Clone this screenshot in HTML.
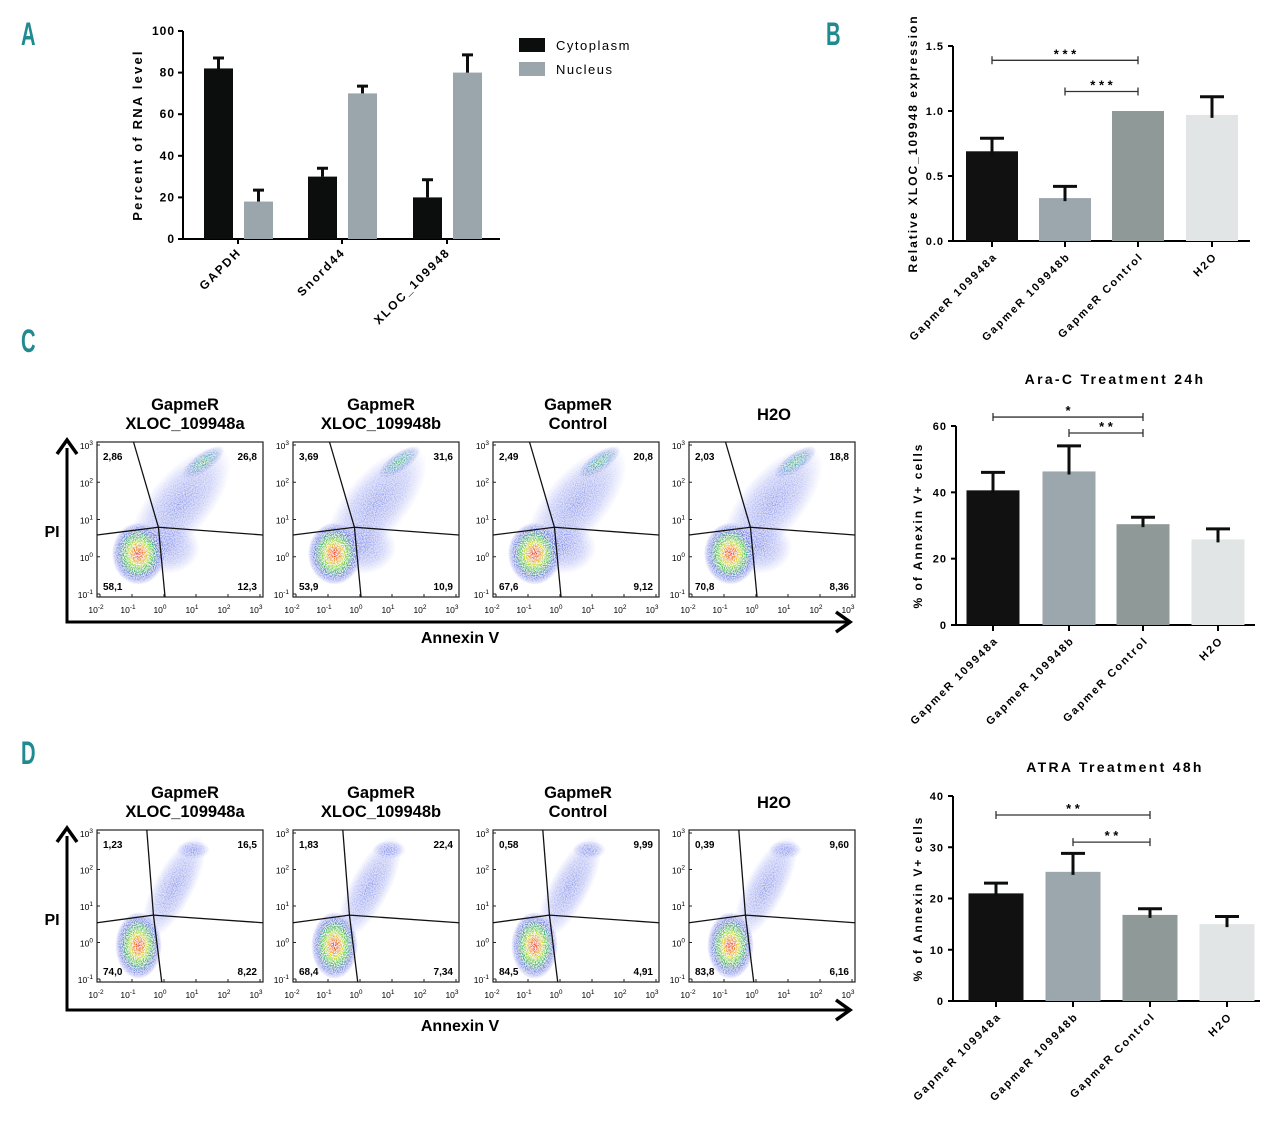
<!DOCTYPE html>
<html><head><meta charset="utf-8"><style>
html,body{margin:0;padding:0;background:#fff;}
svg{display:block;font-family:"Liberation Sans",sans-serif;}
.lt{font-family:"Liberation Sans",sans-serif;font-weight:bold;fill:#1f8a8f;font-size:28px;}
</style></head><body>
<svg id="fig" width="1280" height="1124" viewBox="0 0 1280 1124" xmlns="http://www.w3.org/2000/svg">
<defs>
<radialGradient id="gLive">
<stop offset="0" stop-color="#e8281c"/><stop offset="0.2" stop-color="#f09020"/><stop offset="0.35" stop-color="#d8e020"/><stop offset="0.55" stop-color="#3cc060"/><stop offset="0.78" stop-color="#3a5ae0" stop-opacity="0.7"/><stop offset="1" stop-color="#3040e0" stop-opacity="0"/>
</radialGradient>
<radialGradient id="gGreen">
<stop offset="0" stop-color="#40c070"/><stop offset="0.45" stop-color="#30a0c0" stop-opacity="0.7"/><stop offset="1" stop-color="#3040e0" stop-opacity="0"/>
</radialGradient>
<radialGradient id="gBlue">
<stop offset="0" stop-color="#3050e0" stop-opacity="0.55"/><stop offset="0.6" stop-color="#4058e8" stop-opacity="0.3"/><stop offset="1" stop-color="#6070f0" stop-opacity="0"/>
</radialGradient>
<filter id="speck"><feTurbulence type="fractalNoise" baseFrequency="0.9" numOctaves="1" seed="3" result="n"/><feColorMatrix in="n" type="matrix" values="0 0 0 0 1  0 0 0 0 1  0 0 0 0 1  0 0 0 -3 1.9" result="m"/><feComposite in="m" in2="SourceGraphic" operator="in" result="w"/><feMerge><feMergeNode in="SourceGraphic"/><feMergeNode in="w"/></feMerge></filter>
</defs>
<text class="lt" transform="translate(21,45) scale(0.72,1.15)">A</text>
<text class="lt" transform="translate(826,45) scale(0.72,1.15)">B</text>
<text class="lt" transform="translate(21,352) scale(0.72,1.15)">C</text>
<text class="lt" transform="translate(21,764) scale(0.72,1.15)">D</text>
<g id="root"></g>
</svg>
<script>
// ===== Panel A data =====
const aCategories = ["GAPDH","Snord44","XLOC_109948"];
const aCyto = [82,30,20];
const aCytoErr = [5,4,8.5];
const aNuc = [18,70,80];
const aNucErr = [5.5,3.5,8.5];
const aTicks = [0,20,40,60,80,100];
// ===== Panel B data =====
const bCategories = ["GapmeR 109948a","GapmeR 109948b","GapmeR Control","H2O"];
const bValues = [0.69,0.33,1.0,0.97];
const bErr = [0.1,0.09,0,0.14];
const bTicks = [0.0,0.5,1.0,1.5];
const bTickLabels = ["0.0","0.5","1.0","1.5"];
const bSig = [[0,2,1.39,"* * *"],[1,2,1.15,"* * *"]];
// ===== Panel C bar data =====
const cValues = [40.6,46.3,30.4,25.8];
const cErr = [5.4,7.7,2.1,3.2];
const cTicks = [0,20,40,60];
const cSig = [[0,2,62.7,"*"],[1,2,57.9,"* *"]];
// ===== Panel D bar data =====
const dValues = [21,25.2,16.8,15];
const dErr = [2,3.6,1.2,1.5];
const dTicks = [0,10,20,30,40];
const dSig = [[0,2,36.3,"* *"],[1,2,31,"* *"]];
// ===== Flow data =====
const cFlowTitles = [["GapmeR","XLOC_109948a"],["GapmeR","XLOC_109948b"],["GapmeR","Control"],["H2O"]];
const cFlowPct = [["2,86","26,8","58,1","12,3"],["3,69","31,6","53,9","10,9"],["2,49","20,8","67,6","9,12"],["2,03","18,8","70,8","8,36"]];
const dFlowPct = [["1,23","16,5","74,0","8,22"],["1,83","22,4","68,4","7,34"],["0,58","9,99","84,5","4,91"],["0,39","9,60","83,8","6,16"]];
const barColors = ["#111111","#9ca6ad","#8e9998","#e1e5e5"];

const NS="http://www.w3.org/2000/svg";
const root=document.getElementById('root');
function el(tag,attrs,parent,text){const e=document.createElementNS(NS,tag);for(const k in attrs)e.setAttribute(k,attrs[k]);if(text!==undefined)e.textContent=text;(parent||root).appendChild(e);return e;}
function g(name){const e=el('g',{});return e;}

// ---------- Panel A ----------
(function(){
  const G=g('panel-a-chart');
  const x0=183,xEnd=500,yb=239,yt=31;
  const y=v=>yb-(v/100)*(yb-yt);
  const centers=[238,342,447];
  el('line',{x1:x0,y1:yt,x2:x0,y2:yb+1,stroke:'#000','stroke-width':2},G);
  el('line',{x1:x0-1,y1:yb,x2:xEnd,y2:yb,stroke:'#000','stroke-width':2},G);
  aTicks.forEach(t=>{
    el('line',{x1:x0-5,y1:y(t),x2:x0,y2:y(t),stroke:'#000','stroke-width':2},G);
    const tx=el('text',{x:x0-8,y:y(t)+4,'text-anchor':'end','font-size':12,'font-weight':'bold','letter-spacing':1},G,String(t));
    
  });
  const yl=el('text',{transform:'translate(142,135) rotate(-90)','text-anchor':'middle','font-size':13,'font-weight':'bold','letter-spacing':2.2},G,'Percent of RNA level');
  
  aCategories.forEach((c,i)=>{
    const cx=centers[i];
    el('line',{x1:cx,y1:yb,x2:cx,y2:yb+5,stroke:'#000','stroke-width':2},G);
    const b1=el('rect',{x:cx-34,y:y(aCyto[i]),width:29,height:yb-y(aCyto[i]),fill:'#0c0e0e'},G);
    
    el('path',{d:`M${cx-19.5} ${y(aCyto[i])} V${y(aCyto[i]+aCytoErr[i])} M${cx-25} ${y(aCyto[i]+aCytoErr[i])} H${cx-14}`,stroke:'#0c0e0e','stroke-width':3,fill:'none'},G);
    const b2=el('rect',{x:cx+6,y:y(aNuc[i]),width:29,height:yb-y(aNuc[i]),fill:'#9ba5ac'},G);
    
    el('path',{d:`M${cx+20.5} ${y(aNuc[i])} V${y(aNuc[i]+aNucErr[i])} M${cx+15} ${y(aNuc[i]+aNucErr[i])} H${cx+26}`,stroke:'#0c0e0e','stroke-width':3,fill:'none'},G);
    const t=el('text',{transform:`translate(${cx+4},${yb+14}) rotate(-45)`,'text-anchor':'end','font-size':12,'font-weight':'bold','letter-spacing':2},G,c);
    
  });
  const lg=g('legend');
  el('rect',{x:519,y:38,width:26,height:14,fill:'#0c0e0e'},lg);
  el('text',{x:556,y:50,'font-size':13,'letter-spacing':1.5},lg,'Cytoplasm');
  el('rect',{x:519,y:62,width:26,height:14,fill:'#9ba5ac'},lg);
  el('text',{x:556,y:74,'font-size':13,'letter-spacing':1.5},lg,'Nucleus');
})();

// ---------- generic 4-bar chart ----------
function barChart(name,opt,vals,errs,ticks,tickLabels,sig){
  const G=g(name);
  const {x0,xEnd,yb,yt,max,centers,bw,title,titleY,ylab,ylabX}=opt;
  const y=v=>yb-(v/max)*(yb-yt);
  if(title){const t=el('text',{x:1115,y:titleY,'text-anchor':'middle','font-size':14,'font-weight':'bold','letter-spacing':2.3},G,title);}
  el('line',{x1:x0,y1:yt,x2:x0,y2:yb+1,stroke:'#000','stroke-width':2},G);
  el('line',{x1:x0-1,y1:yb,x2:xEnd,y2:yb,stroke:'#000','stroke-width':2},G);
  ticks.forEach((t,i)=>{
    el('line',{x1:x0-5,y1:y(t),x2:x0,y2:y(t),stroke:'#000','stroke-width':2},G);
    const tx=el('text',{x:x0-9,y:y(t)+4,'text-anchor':'end','font-size':11,'font-weight':'bold','letter-spacing':1},G,tickLabels[i]);
    
  });
  const yl=el('text',{transform:`translate(${ylabX},${(yb+yt)/2}) rotate(-90)`,'text-anchor':'middle','font-size':12,'font-weight':'bold','letter-spacing':2},G,ylab);
  
  bCategories.forEach((c,i)=>{
    const cx=centers[i];
    el('line',{x1:cx,y1:yb,x2:cx,y2:yb+6,stroke:'#000','stroke-width':2},G);
    const b=el('rect',{x:cx-bw/2,y:y(vals[i]),width:bw,height:yb-y(vals[i]),fill:barColors[i]},G);
    
    if(errs[i]>0){const e=y(vals[i]+errs[i]);el('path',{d:`M${cx} ${y(vals[i])+3} V${e} M${cx-12} ${e} H${cx+12}`,stroke:'#0c0e0e','stroke-width':3,fill:'none'},G);}
    const t=el('text',{transform:`translate(${cx+6},${yb+16}) rotate(-45)`,'text-anchor':'end','font-size':11,'font-weight':'bold','letter-spacing':2},G,c);
    
  });
  sig.forEach(s=>{
    const xa=centers[s[0]],xb=centers[s[1]],yy=y(s[2]);
    const sg=g('significance-bracket');G.appendChild(sg);
    el('path',{d:`M${xa} ${yy-4} V${yy+4} M${xa} ${yy} H${xb} M${xb} ${yy-4} V${yy+4}`,stroke:'#333','stroke-width':1.3,fill:'none'},sg);
    el('text',{x:(xa+xb)/2,y:yy-2,'text-anchor':'middle','font-size':13,'font-weight':'bold'},sg,s[3]);
  });
}
barChart('panel-b-chart',{x0:953,xEnd:1250,yb:241,yt:46,max:1.5,centers:[992,1065,1138,1212],bw:52,ylab:'Relative XLOC_109948 expression',ylabX:917},bValues,bErr,bTicks,bTickLabels,bSig);
barChart('panel-c-bar-chart',{x0:956,xEnd:1255,yb:625,yt:426,max:60,centers:[993,1069,1143,1218],bw:53,title:'Ara-C Treatment 24h',titleY:384,ylab:'% of Annexin V+ cells',ylabX:922},cValues,cErr,cTicks,cTicks.map(String),cSig);
barChart('panel-d-bar-chart',{x0:953,xEnd:1260,yb:1001,yt:796,max:40,centers:[996,1073,1150,1227],bw:55,title:'ATRA Treatment 48h',titleY:772,ylab:'% of Annexin V+ cells',ylabX:922},dValues,dErr,dTicks,dTicks.map(String),dSig);

// ---------- flow plots ----------
const plotX=[97,293,493,689];
function flowPlot(G,px,py,w,h,pct,idx,isD){
  const pg=g('flow-plot');G.appendChild(pg);
  const clipId='clip'+(isD?'d':'c')+idx;
  const cp=el('clipPath',{id:clipId},pg);el('rect',{x:px,y:py,width:w,height:h},cp);
  const dg=el('g',{'clip-path':`url(#${clipId})`,filter:'url(#speck)'},pg);
  const X=f=>px+f*w,Y=f=>py+f*h;
  if(!isD){
    el('ellipse',{cx:X(0.5),cy:Y(0.4),rx:w*0.42,ry:h*0.2,fill:'url(#gBlue)',transform:`rotate(-50 ${X(0.5)} ${Y(0.4)})`},dg);
    el('ellipse',{cx:X(0.42),cy:Y(0.68),rx:w*0.2,ry:h*0.17,fill:'url(#gBlue)'},dg);
    el('ellipse',{cx:X(0.64),cy:Y(0.13),rx:w*0.15,ry:h*0.06,fill:'url(#gGreen)',transform:`rotate(-35 ${X(0.64)} ${Y(0.13)})`},dg);
    el('ellipse',{cx:X(0.25),cy:Y(0.72),rx:w*0.16,ry:h*0.2,fill:'url(#gLive)'},dg);
  } else {
    el('ellipse',{cx:X(0.46),cy:Y(0.38),rx:w*0.12,ry:h*0.38,fill:'url(#gBlue)',transform:`rotate(28 ${X(0.46)} ${Y(0.38)})`},dg);
    el('ellipse',{cx:X(0.58),cy:Y(0.13),rx:w*0.1,ry:h*0.06,fill:'url(#gBlue)'},dg);
    el('ellipse',{cx:X(0.25),cy:Y(0.76),rx:w*0.14,ry:h*0.22,fill:'url(#gLive)'},dg);
  }
  el('rect',{x:px,y:py,width:w,height:h,fill:'none',stroke:'#222','stroke-width':1.2},pg);
  const cr=isD?[0.34,0.56]:[0.37,0.55];
  el('path',{d:`M${X(isD?0.3:0.22)} ${py} L${X(cr[0])} ${Y(cr[1])} L${X(isD?0.39:0.41)} ${py+h}`,stroke:'#111','stroke-width':1.3,fill:'none'},pg);
  el('path',{d:`M${px} ${Y(cr[1]+0.05)} L${X(cr[0])} ${Y(cr[1])} L${px+w} ${Y(cr[1]+0.05)}`,stroke:'#111','stroke-width':1.3,fill:'none'},pg);
  const f={'font-size':10,'font-weight':'bold'};
  el('text',Object.assign({x:px+6,y:py+18},f),pg,pct[0]);
  el('text',Object.assign({x:px+w-6,y:py+18,'text-anchor':'end'},f),pg,pct[1]);
  el('text',Object.assign({x:px+6,y:py+h-7},f),pg,pct[2]);
  el('text',Object.assign({x:px+w-6,y:py+h-7,'text-anchor':'end'},f),pg,pct[3]);
  const ye=[3,2,1,0,-1];
  ye.forEach((e,i)=>{const yy=py+3+i*(h-6)/4;
    el('line',{x1:px,y1:yy,x2:px+3,y2:yy,stroke:'#222'},pg);
    const t=el('text',{x:px-4,y:yy+4,'text-anchor':'end','font-size':8.5},pg);
    el('tspan',{},t,'10');el('tspan',{dy:-4,'font-size':6.5},t,String(e));});
  const xe=[-2,-1,0,1,2,3];
  xe.forEach((e,i)=>{const xx=px+3+i*(w-6)/5;
    el('line',{x1:xx,y1:py+h,x2:xx,y2:py+h-3,stroke:'#222'},pg);
    const t=el('text',{x:xx-4,y:py+h+16,'text-anchor':'middle','font-size':8.5},pg);
    el('tspan',{},t,'10');el('tspan',{dy:-4,'font-size':6.5},t,String(e));});
}
function flowRow(name,py,h,pct,titleY){
  const G=g(name);
  el('path',{d:`M67 ${py+6} V${py+180} H848`,stroke:'#000','stroke-width':3,fill:'none'},G);
  el('path',{d:`M57 ${py+12} L67 ${py-2} L77 ${py+12}`,stroke:'#000','stroke-width':3.5,fill:'none'},G);
  el('path',{d:`M836 ${py+170} L850 ${py+180} L836 ${py+190}`,stroke:'#000','stroke-width':3.5,fill:'none'},G);
  const pi=el('text',{x:52,y:py+95,'text-anchor':'middle','font-size':16,'font-weight':'bold'},G,'PI');
  
  const av=el('text',{x:460,y:py+201,'text-anchor':'middle','font-size':16,'font-weight':'bold'},G,'Annexin V');
  
  cFlowTitles.forEach((tl,i)=>{
    const cx=plotX[i]+83+(i<2?5:2);
    if(tl.length==2){el('text',{x:cx,y:titleY,'text-anchor':'middle','font-size':16.5,'font-weight':'bold'},G,tl[0]);el('text',{x:cx,y:titleY+19,'text-anchor':'middle','font-size':16.5,'font-weight':'bold'},G,tl[1]);}
    else el('text',{x:cx,y:titleY+10,'text-anchor':'middle','font-size':16.5,'font-weight':'bold'},G,tl[0]);
    flowPlot(G,plotX[i],py,166,h,pct[i],i,name.indexOf('-d-')>0);
  });
}
flowRow('panel-c-flow',442,155,cFlowPct,410);
flowRow('panel-d-flow',830,152,dFlowPct,798);
</script>
</body></html>
